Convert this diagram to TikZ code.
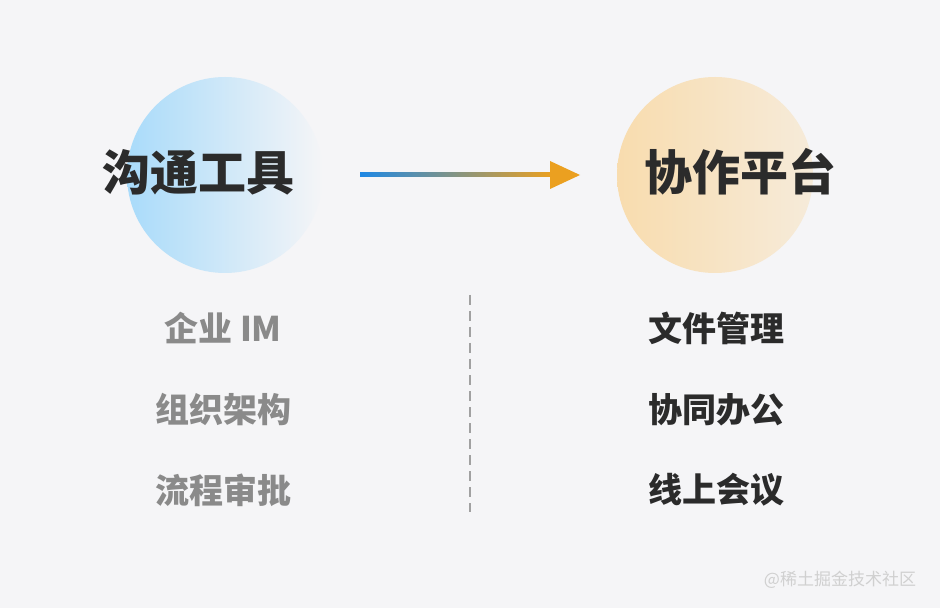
\documentclass[tikz,border=0pt]{standalone}
\usepackage{fontspec}
\newfontfamily\cjk{Noto Sans CJK SC}
\usetikzlibrary{arrows.meta}
\definecolor{bg}{HTML}{F5F5F7}
\definecolor{lblue}{HTML}{A9DBFA}
\definecolor{lpeach}{HTML}{F8DCAE}
\definecolor{abl}{HTML}{1E88E5}
\definecolor{aor}{HTML}{EBA020}
\definecolor{grey}{HTML}{8A8A8A}
\definecolor{dark}{HTML}{2B2B2B}
\tikzset{
  title/.style={font=\cjk\bfseries\fontsize{24}{28}\selectfont, text=dark},
  itemL/.style={font=\cjk\bfseries\fontsize{17}{20}\selectfont, text=grey},
  itemR/.style={font=\cjk\bfseries\fontsize{17}{20}\selectfont, text=dark},
}
\begin{document}
\begin{tikzpicture}[x=0.5pt,y=-0.5pt]
\fill[bg] (0,0) rectangle (940,608);
\useasboundingbox (0,0) rectangle (940,608);
\shade[left color=lblue, right color=bg] (225,175) circle (98);
\shade[left color=lpeach, right color=bg!60!lpeach] (715,175) circle (98);
\node[title] (t1) at (198,172) {沟通工具};
\node[title] (t2) at (740,172) {协作平台};
\shade[left color=abl, right color=aor] (360,173) rectangle (552,177);
\fill[aor] (550,161) -- (580,175) -- (550,189) -- cycle;
\draw[grey!80, line width=0.8pt, dash pattern=on 5pt off 3pt] (470,295) -- (470,512);
\node[itemL] (l1) at (223,328) {企业 IM};
\node[itemL] (l2) at (223,410) {组织架构};
\node[itemL] (l3) at (223,490) {流程审批};
\node[itemR] (r1) at (716,328) {文件管理};
\node[itemR] (r2) at (716,410) {协同办公};
\node[itemR] (r3) at (716,490) {线上会议};
\node[font=\cjk\fontsize{8.5}{10}\selectfont, text=white!60!grey] (wm) at (840,580) {@稀土掘金技术社区};
\end{tikzpicture}
\end{document}
